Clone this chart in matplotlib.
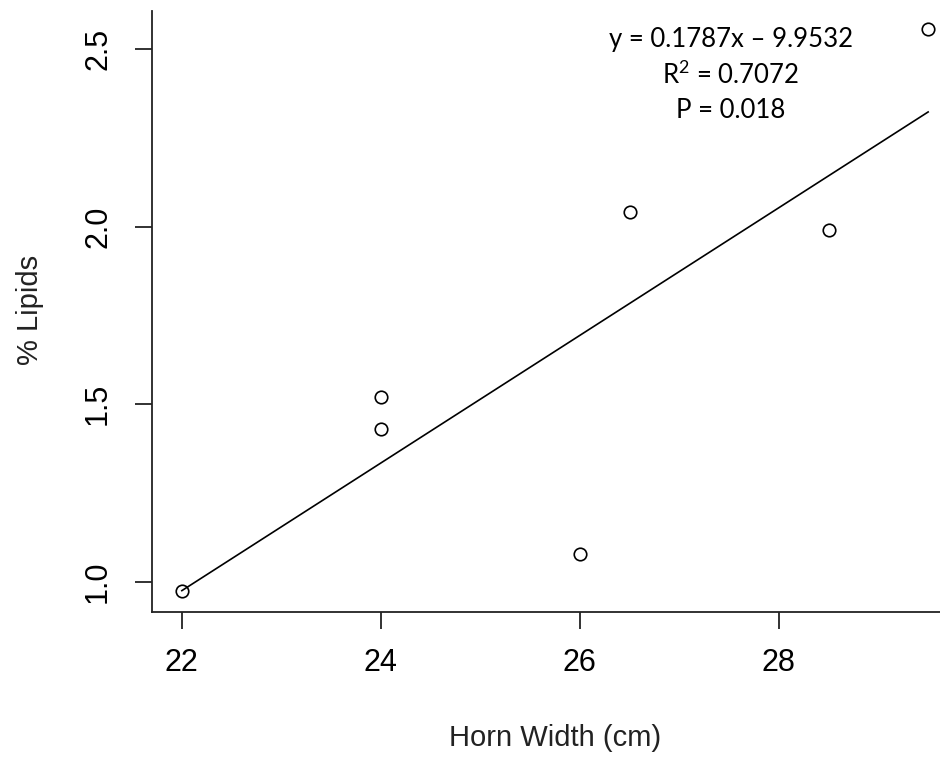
import numpy as np
import matplotlib
matplotlib.use("Agg")
import matplotlib.pyplot as plt

# horn width (cm) vs % lipids
horn_width = [22, 24, 24, 26, 26.5, 28.5, 29.5]
lipids = [0.975, 1.52, 1.43, 1.08, 2.04, 1.99, 2.555]

x_ticks = [22, 24, 26, 28]
y_ticks = [1.0, 1.5, 2.0, 2.5]
stats_text = ["y = 0.1787x \u2013 9.9532", "R$^2$ = 0.7072", "P = 0.018"]

plt.rcParams['font.family'] = ['Liberation Sans', 'DejaVu Sans']
plt.rcParams['mathtext.fontset'] = 'custom'
plt.rcParams['mathtext.rm'] = 'Lato'

W, H = 940, 759
fig = plt.figure(figsize=(W / 100, H / 100), dpi=100)
# axes box in pixels: left 152, right 958 (runs past the edge), top 11, bottom 612
ax = fig.add_axes([152 / W, (H - 612) / H, (958 - 152) / W, (612 - 11) / H])

ax.plot(horn_width, lipids, linestyle='none', marker='o', markersize=9,
        markerfacecolor='none', markeredgecolor='black', markeredgewidth=1.2)

slope, intercept = np.polyfit(horn_width, lipids, 1)
xs = np.array([min(horn_width), max(horn_width)])
ax.plot(xs, slope * xs + intercept, color='black', linewidth=1.2)

ax.set_xlim(21.7, 29.8)
ax.set_ylim(0.9156, 2.607)
ax.set_xticks(x_ticks)
ax.set_xticklabels([str(v) for v in x_ticks])
ax.set_yticks(y_ticks)
ax.set_yticklabels(["%.1f" % v for v in y_ticks], rotation=90, va='center')

for s in ['top', 'right']:
    ax.spines[s].set_visible(False)
for s in ['left', 'bottom']:
    ax.spines[s].set_linewidth(1.3)
    ax.spines[s].set_color('#222222')

ax.tick_params(axis='both', direction='out', length=12, width=1.3, color='#222222',
               labelsize=22)
ax.tick_params(axis='x', pad=14)
ax.tick_params(axis='y', pad=16)

fig.text(555 / W, 1 - 738 / H, "Horn Width (cm)", ha='center', va='center',
         fontsize=21, color='#222222')
fig.text(30 / W, 1 - 310 / H, "% Lipids", ha='center', va='center',
         rotation=90, fontsize=21, color='#222222')

for i, line in enumerate(stats_text):
    fig.text(731 / W, 1 - (40 + 35 * i) / H, line, ha='center', va='center',
             fontsize=18.5, family='Lato')

fig.savefig("out.png", dpi=100)
